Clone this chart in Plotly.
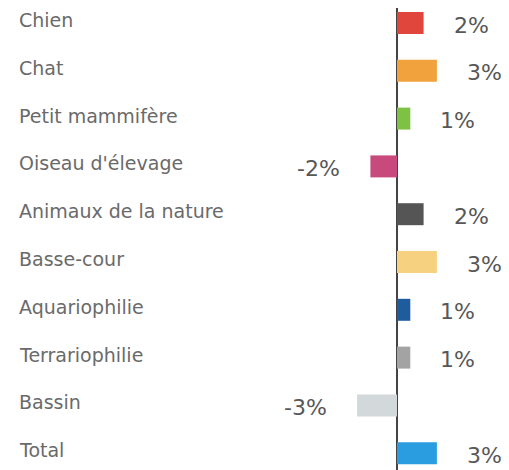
import plotly.graph_objects as go

categories = ["Chien", "Chat", "Petit mammifère", "Oiseau d'élevage", "Animaux de la nature",
              "Basse-cour", "Aquariophilie", "Terrariophilie", "Bassin", "Total"]
values = [2, 3, 1, -2, 2, 3, 1, 1, -3, 3]
value_labels = ["2%", "3%", "1%", "-2%", "2%", "3%", "1%", "1%", "-3%", "3%"]
colors = ["#e0463c", "#f2a23c", "#7dc243", "#c84a7c", "#555555",
          "#f6d17f", "#1f5c9e", "#a3a3a3", "#d3d8db", "#2a9de0"]

# page has an 8px body margin, so the figure is sized to fit the window
W, H = 501, 462
px_per_unit = 13.3
zero_px = 389
x_min = -zero_px / px_per_unit
x_max = (W - zero_px) / px_per_unit

row_px = 47.8
top_center = 15
y_top = -top_center / row_px
y_bottom = y_top + H / row_px

fig = go.Figure()
fig.add_trace(go.Bar(
    x=values, y=list(range(len(categories))), orientation="h",
    marker=dict(color=colors, line=dict(width=0)),
    width=0.46, hoverinfo="skip",
))

annotations = []
for i, (cat, v, lab) in enumerate(zip(categories, values, value_labels)):
    annotations.append(dict(
        x=9 / W, xref="paper", y=i, yref="y", text=cat, showarrow=False,
        xanchor="left", yanchor="middle", yshift=3,
        font=dict(family="DejaVu Sans", size=19, color="#6a6a6a"),
    ))
    annotations.append(dict(
        x=v, xref="x", y=i, yref="y", text=lab, showarrow=False,
        xanchor="left" if v >= 0 else "right", yanchor="middle",
        xshift=28 if v >= 0 else -28, yshift=-2,
        font=dict(family="DejaVu Sans", size=22, color="#575757"),
    ))

fig.update_layout(
    width=W, height=H,
    margin=dict(l=0, r=0, t=0, b=0),
    paper_bgcolor="white", plot_bgcolor="white",
    showlegend=False,
    xaxis=dict(range=[x_min, x_max], showgrid=False, showticklabels=False,
               zeroline=True, zerolinecolor="#444444", zerolinewidth=2,
               fixedrange=True),
    yaxis=dict(range=[y_bottom, y_top], showgrid=False, showticklabels=False,
               zeroline=False, fixedrange=True),
    annotations=annotations,
)

fig.write_html("out.html")
